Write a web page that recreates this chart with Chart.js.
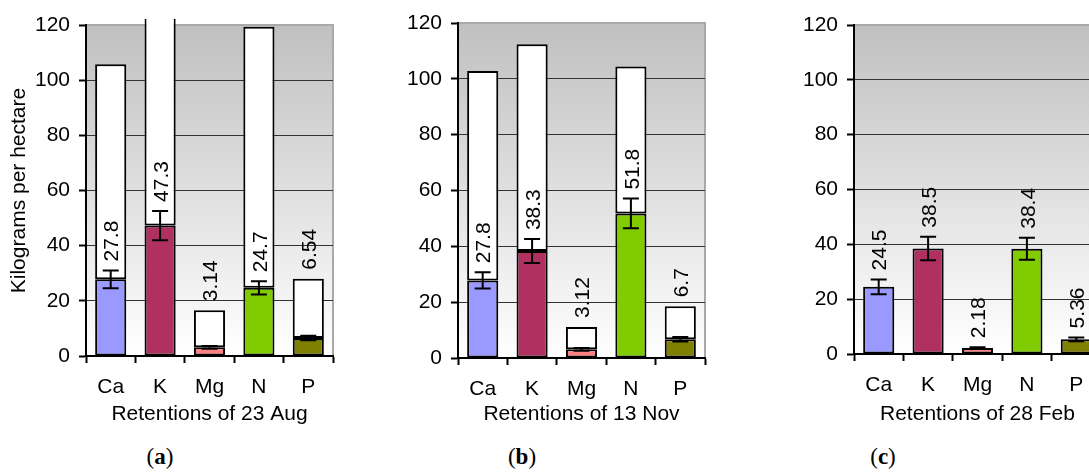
<!DOCTYPE html>
<html>
<head>
<meta charset="utf-8">
<script src="https://cdn.jsdelivr.net/npm/chart.js@4.4.1/dist/chart.umd.min.js"></script>
<style>
  html, body { margin: 0; padding: 0; background: #fff; width: 1089px; height: 472px; overflow: hidden; }
  #wrap { position: relative; width: 1089px; height: 472px; overflow: hidden; }
  canvas { position: absolute; top: 0; }
  .panel { position: absolute; top: 444px; width: 60px; margin-left: -30px; text-align: center;
           font-family: "Liberation Serif", "DejaVu Serif", serif; font-size: 23px; color: #000; }
  .panel b { font-weight: bold; }
</style>
</head>
<body>
<div id="wrap">
  <canvas id="chartA" width="363" height="440" style="left:0px"></canvas>
  <canvas id="chartB" width="363" height="440" style="left:372px"></canvas>
  <canvas id="chartC" width="363" height="440" style="left:768px"></canvas>
  <div class="panel" style="left:160px">(<b>a</b>)</div>
  <div class="panel" style="left:522px">(<b>b</b>)</div>
  <div class="panel" style="left:883px">(<b>c</b>)</div>
</div>
<script>
// elements on the x axis
const elements = ['Ca', 'K', 'Mg', 'N', 'P'];
const elementColors = ['#9999ff', '#b0305f', '#ff8080', '#80cc00', '#808000'];

// 23 Aug: retained amount, total (white bar top), error
const retained23Aug = [27.8, 47.3, 3.14, 24.7, 6.54];
const total23Aug = [105.8, 125, 16.6, 119.4, 28.0];
const error23Aug = [3.2, 5.3, 0.5, 2.4, 0.8];

// 13 Nov
const retained13Nov = [27.8, 38.3, 3.12, 51.8, 6.7];
const total13Nov = [102.8, 112.4, 11.1, 104.4, 18.5];
const error13Nov = [2.9, 4.3, 0.5, 5.3, 0.8];

// 28 Feb (no totals)
const retained28Feb = [24.5, 38.5, 2.18, 38.4, 5.36];
const error28Feb = [2.7, 4.3, 0.3, 4.0, 0.7];

const yMax = 120;
const yStep = 20;

const FONT = '"Liberation Sans", Arial, sans-serif';

// gray gradient behind the bars
const plotBackground = {
    id: 'plotBackground',
    beforeDraw(chart) {
        const { ctx, chartArea: a } = chart;
        const g = ctx.createLinearGradient(0, a.top, 0, a.bottom);
        g.addColorStop(0, '#c0c0c0');
        g.addColorStop(1, '#ffffff');
        ctx.save();
        ctx.fillStyle = g;
        ctx.fillRect(a.left, a.top, a.right - a.left, a.bottom - a.top);
        ctx.strokeStyle = '#a9a9a9';
        ctx.lineWidth = 2;
        ctx.beginPath();
        ctx.moveTo(a.left, a.top);
        ctx.lineTo(a.right, a.top);
        ctx.lineTo(a.right, a.bottom);
        ctx.stroke();
        ctx.restore();
    }
};

// error bars + rotated value labels
const errorBarsAndLabels = {
    id: 'errorBarsAndLabels',
    afterDatasetsDraw(chart, args, opts) {
        const { ctx, scales: { x, y } } = chart;
        const gap = 9;
        ctx.save();
        ctx.strokeStyle = '#000';
        ctx.lineWidth = 2;
        ctx.fillStyle = '#000';
        ctx.font = '21px ' + FONT;
        opts.values.forEach((v, i) => {
            const px = x.getPixelForValue(i);
            const yTop = y.getPixelForValue(v + opts.errors[i]);
            const yBot = y.getPixelForValue(v - opts.errors[i]);
            ctx.beginPath();
            ctx.moveTo(px, yTop); ctx.lineTo(px, yBot);
            ctx.moveTo(px - 8, yTop); ctx.lineTo(px + 8, yTop);
            ctx.moveTo(px - 8, yBot); ctx.lineTo(px + 8, yBot);
            ctx.stroke();

            const text = String(v);
            const w = ctx.measureText(text).width;
            let anchor = yTop;
            if (opts.totals) {
                const tTop = y.getPixelForValue(opts.totals[i]);
                if (yTop - tTop < w + 2 * gap) anchor = tTop;
            }
            ctx.save();
            ctx.translate(px + 2, anchor - gap);
            ctx.rotate(-Math.PI / 2);
            ctx.textAlign = 'left';
            ctx.textBaseline = 'middle';
            ctx.fillText(text, 0, 0);
            ctx.restore();
        });
        ctx.restore();
    }
};

function makePanel(id, values, totals, errors, xTitle, showYTitle, top, xHeight) {
    const datasets = [{
        data: values,
        backgroundColor: elementColors,
        borderColor: '#000',
        borderWidth: 2,
        borderSkipped: false,
        clip: { left: false, top: 6, right: false, bottom: false }
    }];
    if (totals) {
        datasets.push({
            data: totals.map((t, i) => t - values[i]),
            backgroundColor: '#ffffff',
            borderColor: '#000',
            borderWidth: 2,
            borderSkipped: false,
            clip: { left: false, top: 6, right: false, bottom: false }
        });
    }

    const config = {
        type: 'bar',
        data: { labels: elements, datasets: datasets },
        options: {
            responsive: false,
            animation: false,
            datasets: { bar: { categoryPercentage: 1, barPercentage: 0.63 } },
            layout: { padding: { top: top, right: 30, bottom: 10, left: 0 } },
            plugins: {
                legend: { display: false },
                tooltip: { enabled: false },
                errorBarsAndLabels: { values: values, errors: errors, totals: totals }
            },
            scales: {
                x: {
                    stacked: true,
                    afterFit(scale) { scale.height = xHeight; },
                    grid: { offset: true, drawOnChartArea: false, tickLength: 7, tickColor: '#000', tickWidth: 2 },
                    border: { color: '#000', width: 2 },
                    ticks: { color: '#000', font: { family: FONT, size: 21 }, padding: 12 },
                    title: { display: true, text: xTitle, color: '#000', font: { family: FONT, size: 21 }, padding: { top: 0, bottom: 3 } }
                },
                y: {
                    stacked: true,
                    min: 0,
                    max: yMax,
                    afterFit(scale) { scale.width = 86; },
                    grid: {
                        color: (c) => (c.tick && c.tick.value === yMax) ? 'rgba(0,0,0,0)' : '#333',
                        lineWidth: 1,
                        tickLength: 7,
                        tickColor: '#000',
                        tickWidth: 2
                    },
                    border: { color: '#000', width: 2 },
                    ticks: { stepSize: yStep, color: '#000', font: { family: FONT, size: 21 }, padding: 9 },
                    title: { display: showYTitle, text: 'Kilograms per hectare', color: '#000', font: { family: FONT, size: 21 }, padding: { top: 7, bottom: 0 } }
                }
            }
        },
        plugins: [plotBackground, errorBarsAndLabels]
    };
    new Chart(document.getElementById(id), config);
}

makePanel('chartA', retained23Aug, total23Aug, error23Aug, 'Retentions of 23 Aug', true, 25, 74);
makePanel('chartB', retained13Nov, total13Nov, error13Nov, 'Retentions of 13 Nov', false, 23, 72);
makePanel('chartC', retained28Feb, null, error28Feb, 'Retentions of 28 Feb', false, 25, 76);
</script>
</body>
</html>
